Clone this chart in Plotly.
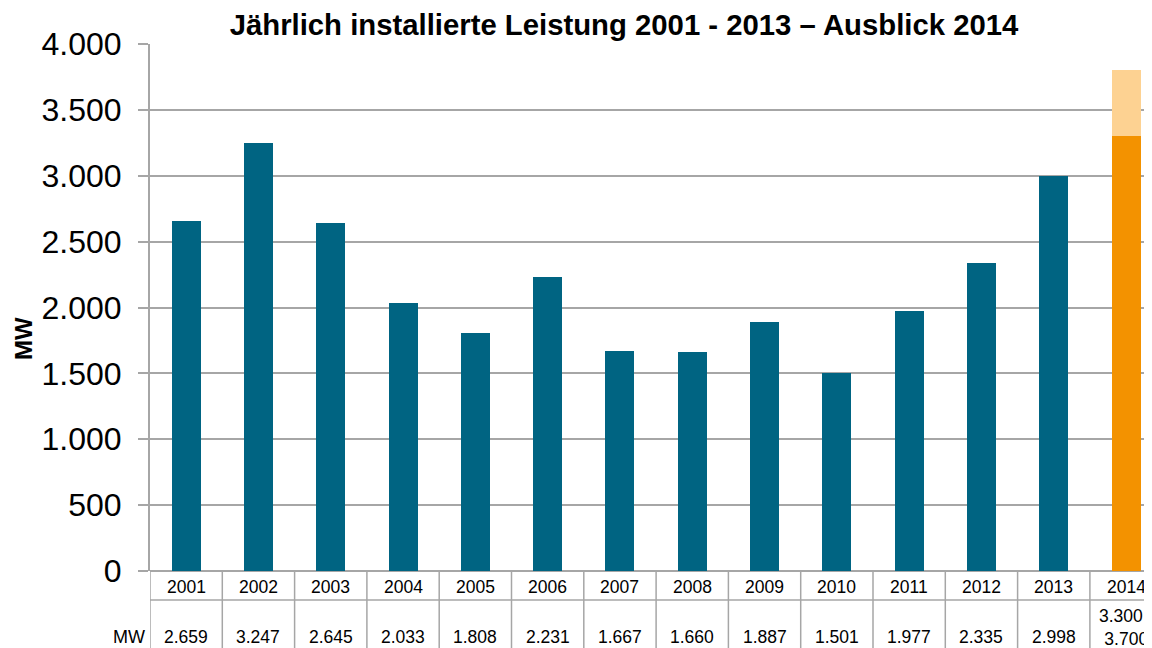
import plotly.graph_objects as go

# ---- data ----
years = ["2001", "2002", "2003", "2004", "2005", "2006", "2007",
         "2008", "2009", "2010", "2011", "2012", "2013", "2014"]
installed_mw = [2659, 3247, 2645, 2033, 1808, 2231, 1667,
                1660, 1887, 1501, 1977, 2335, 2998, 3300]
outlook_extra = [0, 0, 0, 0, 0, 0, 0, 0, 0, 0, 0, 0, 0, 500]
table_labels = ["2.659", "3.247", "2.645", "2.033", "1.808", "2.231", "1.667",
                "1.660", "1.887", "1.501", "1.977", "2.335", "2.998", "3.300 -<br>3.700"]
y_ticks = [0, 500, 1000, 1500, 2000, 2500, 3000, 3500, 4000]

TEAL = "#006482"
ORANGE = "#F39200"
LIGHT_ORANGE = "#FDD292"
GRID = "#A6A6A6"
FONT = "Liberation Sans, Arial, sans-serif"

base_colors = [TEAL] * (len(years) - 1) + [ORANGE]

fig = go.Figure()
fig.add_trace(go.Bar(x=years, y=installed_mw, marker=dict(color=base_colors, line=dict(width=0)),
                     hoverinfo="x+y", showlegend=False))
fig.add_trace(go.Bar(x=years, y=outlook_extra, marker=dict(color=LIGHT_ORANGE, line=dict(width=0)),
                     hoverinfo="x+y", showlegend=False))

# page has an 8px body margin: figure coords = page coords - 8
OFF = 8
W, H = 1152, 648
L, T = 150 - OFF, 44 - OFF
B = H - (571 - OFF)
R = 0
plot_h = H - T - B
plot_w = W - L - R
CAT = 72.3  # pixels per category

def py(page_y):
    return (571 - page_y) / plot_h

def px(page_x):
    return (page_x - OFF - L) / plot_w

shapes = []
n = len(years)
row1_bottom = py(600)
row2_bottom = py(720)
for i in range(n + 1):
    xb = i - 0.5
    shapes.append(dict(type="line", xref="x", yref="paper", x0=xb, x1=xb,
                       y0=0, y1=row2_bottom, line=dict(color=GRID, width=1.5)))
mw_left = -0.5 - 42 / CAT
shapes.append(dict(type="line", xref="x", yref="paper", x0=mw_left, x1=mw_left,
                   y0=row1_bottom, y1=row2_bottom, line=dict(color=GRID, width=1.5)))
shapes.append(dict(type="line", xref="x", yref="paper", x0=mw_left, x1=n,
                   y0=row1_bottom, y1=row1_bottom, line=dict(color=GRID, width=1.5)))

annotations = []
for i, yr in enumerate(years):
    annotations.append(dict(x=i, y=py(587), xref="x", yref="paper", text=yr,
                            showarrow=False, font=dict(size=17.5, color="#000", family=FONT),
                            xanchor="center", yanchor="middle"))
for i, lab in enumerate(table_labels):
    yy = py(627) if "<br>" in lab else py(637)
    annotations.append(dict(x=i, y=yy, xref="x", yref="paper", text=lab,
                            showarrow=False, font=dict(size=17.5, color="#000", family=FONT),
                            xanchor="center", yanchor="middle"))
annotations.append(dict(x=px(129), y=py(637), xref="paper", yref="paper", text="MW",
                        showarrow=False, font=dict(size=18, color="#000", family=FONT),
                        xanchor="center", yanchor="middle"))
annotations.append(dict(x=px(23), y=py(339), xref="paper", yref="paper",
                        text="<b>MW</b>", textangle=-90, showarrow=False,
                        font=dict(size=24, color="#000", family=FONT),
                        xanchor="center", yanchor="middle"))

fig.update_layout(
    width=W, height=H,
    margin=dict(l=L, r=R, t=T, b=B, pad=0),
    paper_bgcolor="white", plot_bgcolor="white",
    barmode="stack", bargap=0.6,
    separators=",.",
    font=dict(family=FONT, color="#000"),
    title=dict(text="<b>Jährlich installierte Leistung 2001 - 2013 – Ausblick 2014</b>",
               x=(624 - OFF) / W, xref="container", xanchor="center",
               y=1 - (25 - OFF) / H, yref="container", yanchor="middle",
               font=dict(size=29.3, color="#000", family=FONT)),
    shapes=shapes,
    annotations=annotations,
)
fig.update_xaxes(type="category", range=[-0.5, -0.5 + plot_w / CAT],
                 showticklabels=False, ticks="", showgrid=False,
                 showline=False, zeroline=False)
fig.update_yaxes(range=[0, 4000], tickvals=y_ticks, tickformat=",d",
                 showgrid=True, gridcolor=GRID, gridwidth=1.5,
                 ticks="outside", ticklen=10, tickcolor=GRID, tickwidth=1.5,
                 showline=True, linecolor=GRID, linewidth=2,
                 zeroline=True, zerolinecolor=GRID, zerolinewidth=2,
                 ticklabelstandoff=10,
                 tickfont=dict(size=32, color="#000", family=FONT))

fig.write_html("out.html")
